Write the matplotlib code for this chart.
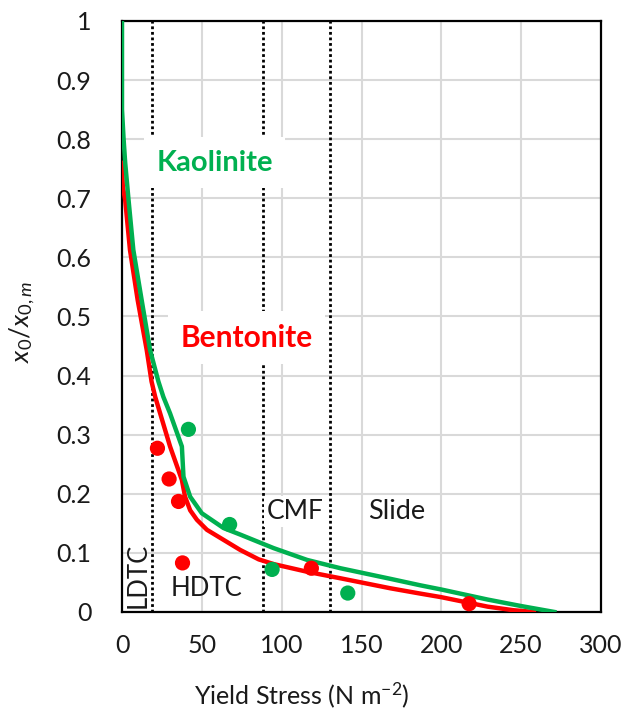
import matplotlib
matplotlib.use("Agg")
import matplotlib.pyplot as plt

plt.rcParams['font.family'] = ['Lato', 'DejaVu Sans']
plt.rcParams['mathtext.fontset'] = 'custom'
plt.rcParams['mathtext.rm'] = 'Lato'
plt.rcParams['mathtext.it'] = 'Lato:italic'

# model curves (yield stress vs x0/x0,m)
kao_x = [0, 0, 1, 2, 4, 7.1, 12.3, 17.6, 22.8, 25.9, 30.1, 37.5, 38.5, 42.7, 50,
         63.6, 74, 82.2, 95, 116, 136.8, 168.2, 187, 200, 229, 250, 270.8]
kao_y = [1, 0.85, 0.80, 0.76, 0.70, 0.6125, 0.528, 0.443, 0.39, 0.364, 0.336, 0.28, 0.229, 0.195, 0.167,
         0.142, 0.131, 0.122, 0.108, 0.088, 0.074, 0.056, 0.045, 0.038, 0.021, 0.01, 0]
ben_x = [0, 0.5, 2, 5, 9.8, 15.5, 18.5, 20.8, 23.9, 30.1, 37.5, 39.5, 42.7, 46.9, 53.2,
         63.6, 74, 85.6, 95, 116, 136.8, 168.2, 187, 200, 229, 245, 258]
ben_y = [0.76, 0.72, 0.697, 0.6125, 0.528, 0.443, 0.39, 0.364, 0.336, 0.28, 0.2234, 0.195, 0.172, 0.156, 0.139,
         0.122, 0.105, 0.089, 0.081, 0.068, 0.057, 0.040, 0.031, 0.025, 0.009, 0.003, 0]

# measured points
kao_px = [41.6, 67.4, 94, 141.4]
kao_py = [0.309, 0.148, 0.072, 0.032]
ben_px = [22.2, 29.5, 35.4, 37.9, 118.6, 217.4]
ben_py = [0.277, 0.225, 0.187, 0.083, 0.074, 0.014]

# regime boundaries
bounds = [19, 88, 130]

green = '#00b050'
red = '#ff0000'
ink = '#1a1a1a'

fig = plt.figure(figsize=(6.25, 7.16), dpi=100)
ax = fig.add_axes([0.1952, 0.1453, 0.7664, 0.8254])

ax.set_xlim(0, 300)
ax.set_ylim(0, 1)
ax.set_xticks(range(0, 301, 50))
ax.set_yticks([i / 10 for i in range(11)])
ax.set_yticklabels(['0'] + ['%.1f' % (i / 10) for i in range(1, 10)] + ['1'])
ax.grid(True, color='#d9d9d9', lw=1.5)
ax.set_axisbelow(True)
ax.tick_params(length=0, labelsize=18, colors=ink)
ax.tick_params(axis='y', pad=22)
ax.tick_params(axis='x', pad=16)
for s in ax.spines.values():
    s.set_linewidth(1.6)
    s.set_color('black')

for b in bounds:
    ax.axvline(b, color='black', ls=(0, (1, 1)), lw=2, zorder=2)

box = dict(facecolor='white', edgecolor='none', pad=9)
ax.text(58, 0.76, 'Kaolinite', color=green, fontsize=21, fontweight='bold',
        ha='center', va='center', bbox=box, zorder=3)
ax.text(78, 0.464, 'Bentonite', color=red, fontsize=21.5, fontweight='bold',
        ha='center', va='center', bbox=box, zorder=3)
ax.text(108.5, 0.17, 'CMF', fontsize=19, ha='center', va='center',
        color=ink, bbox=dict(facecolor='white', edgecolor='none', pad=2), zorder=3)
ax.text(171.7, 0.17, 'Slide', fontsize=19.5, ha='center', va='center',
        color=ink, bbox=dict(facecolor='white', edgecolor='none', pad=2), zorder=3)
ax.text(53, 0.04, 'HDTC', fontsize=18.5, ha='center', va='center', color=ink, zorder=3)
ax.text(10, 0.062, 'LDTC', fontsize=18.5, ha='center', va='center', rotation=90,
        color=ink, zorder=3)

ax.plot(ben_x, ben_y, color=red, lw=3.2, zorder=4, solid_joinstyle='round')
ax.plot(kao_x, kao_y, color=green, lw=3.2, zorder=5, solid_joinstyle='round')
ax.scatter(ben_px, ben_py, s=120, color=red, zorder=6, edgecolors='none')
ax.scatter(kao_px, kao_py, s=120, color=green, zorder=6, edgecolors='none')

ax.set_xlabel('Yield Stress (N m$^{-2}$)', fontsize=18, color=ink)
ax.xaxis.set_label_coords(0.375, -0.115)
ax.set_ylabel('$x_0/x_{0,m}$', fontsize=19, color=ink)
ax.yaxis.set_label_coords(-0.178, 0.49)

fig.savefig('out.png', dpi=100)
